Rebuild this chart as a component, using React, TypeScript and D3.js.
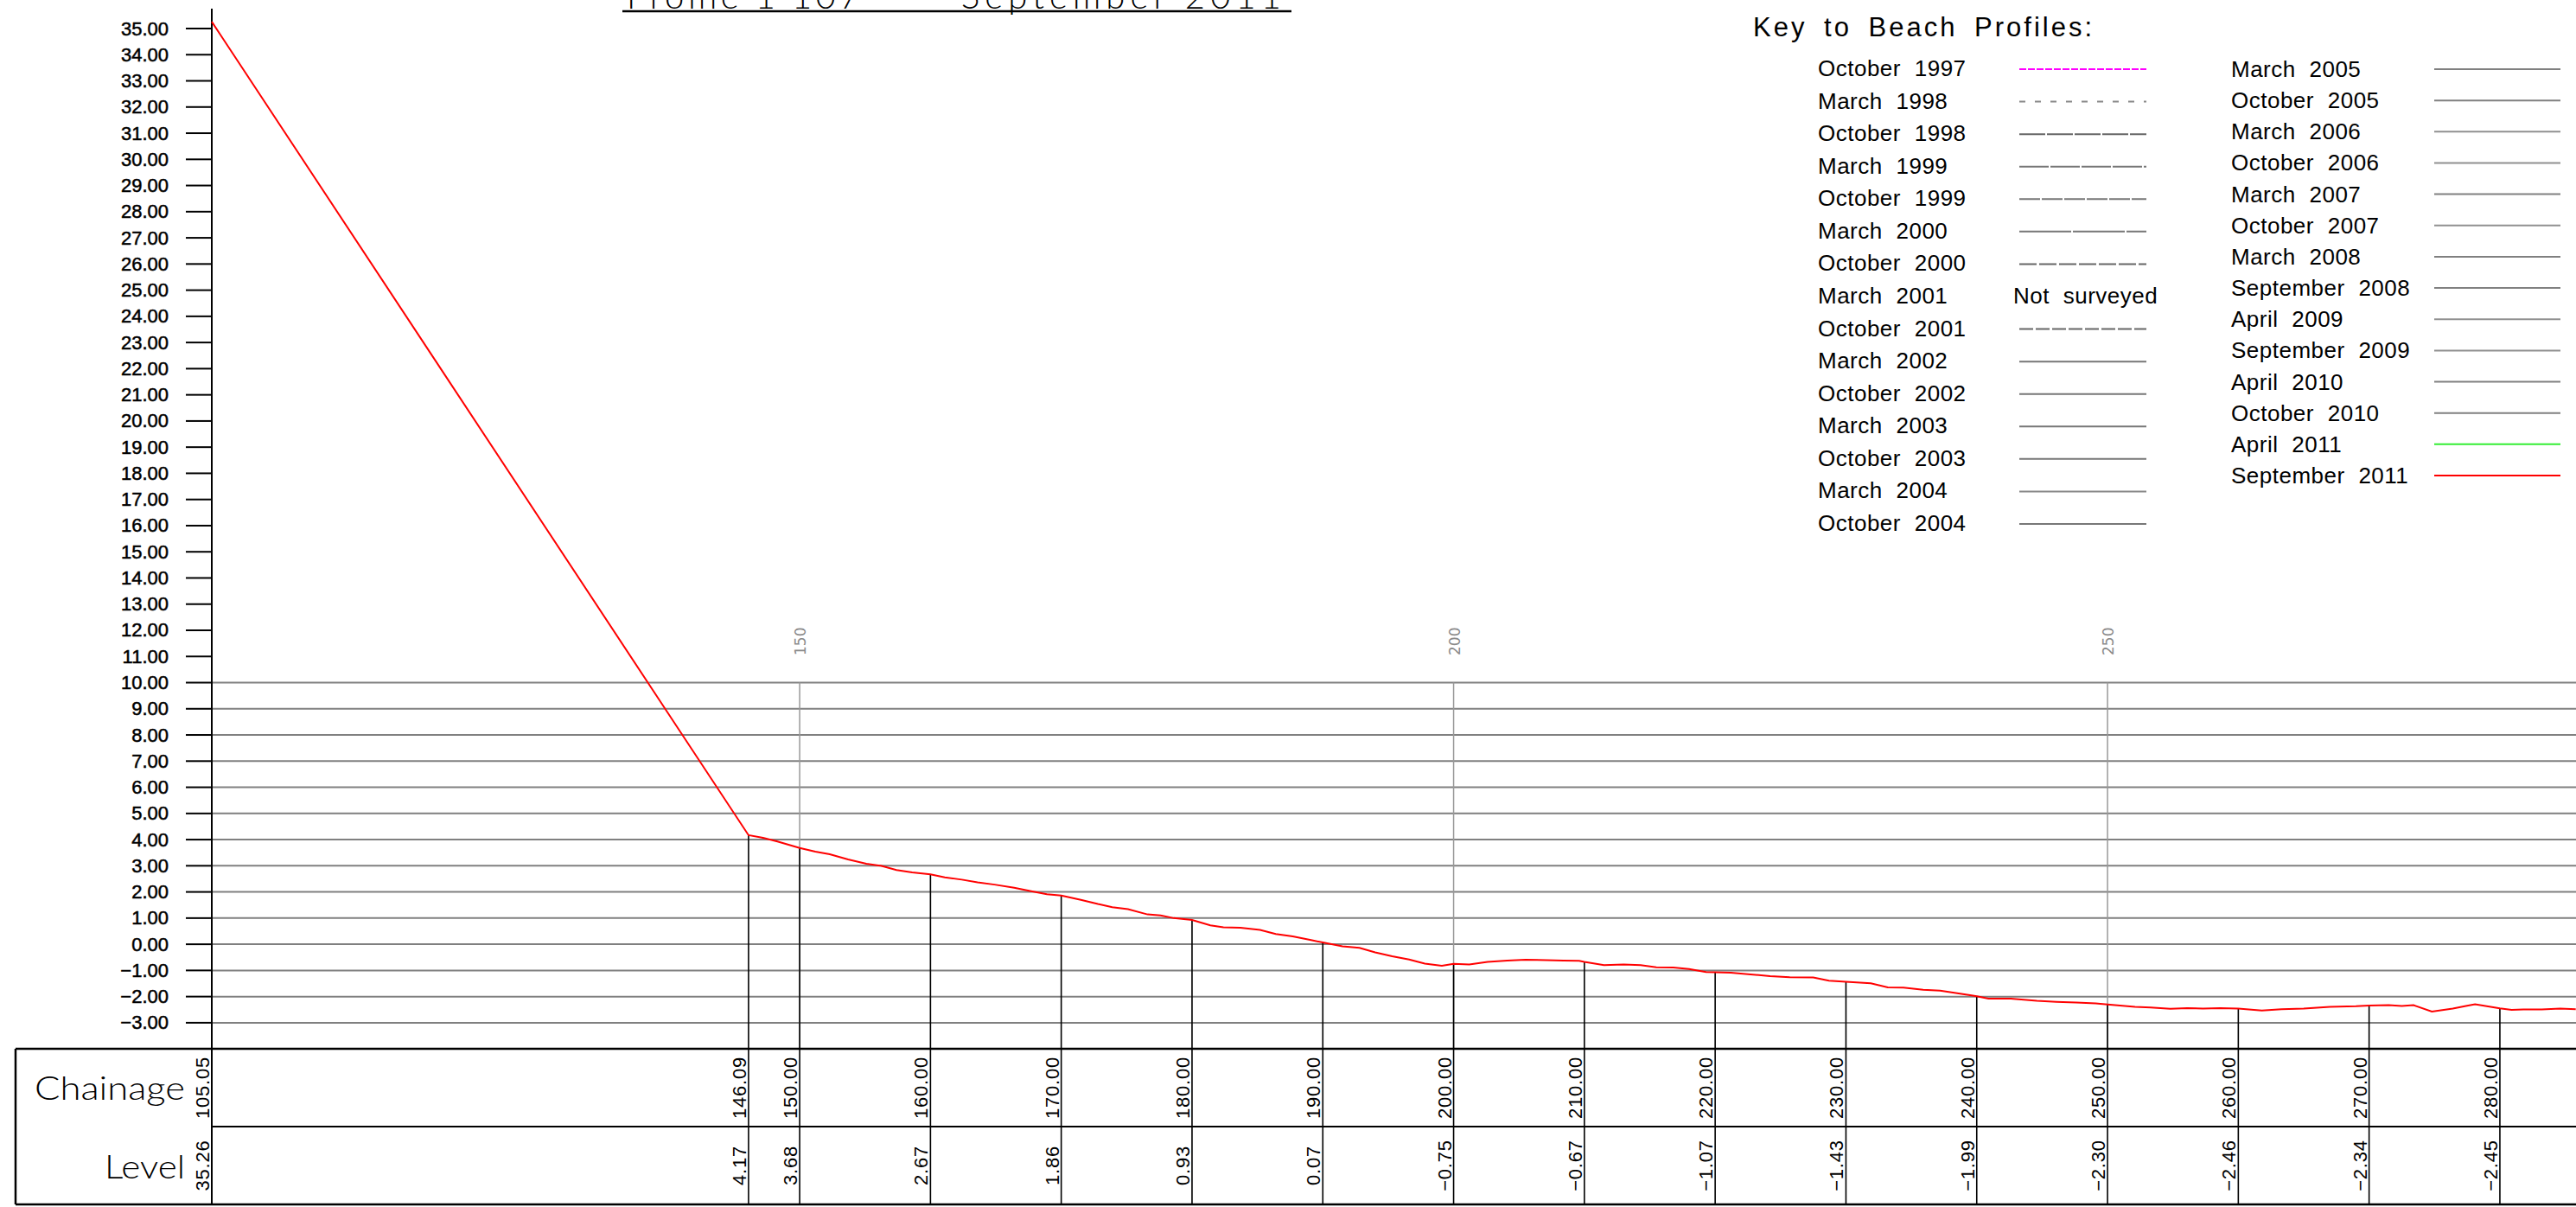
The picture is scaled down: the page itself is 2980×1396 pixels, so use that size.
import { scaleLinear, line as d3Line, format, range } from 'd3';

// September 2011 survey, chainage (m) vs level (m)
const profileChainage = [
  105.05, 146.09, 147.2, 148.3, 150, 151.2, 152.3, 153.7, 155.1, 156.2, 157.4, 158.6,
  160, 161.1, 162.4, 163.6, 164.9, 166.4, 167.7, 168.9, 170, 171.5, 172.8, 173.9,
  175.1, 176.6, 177.6, 178.6, 180, 181.4, 182.4, 183.7, 185.2, 186.4, 187.7, 189.1,
  190, 191.5, 192.8, 194.0, 195.3, 196.6, 197.8, 199.1, 200, 201.2, 202.6, 204.1,
  205.5, 207.1, 208.4, 209.6, 210, 211.5, 213.0, 214.3, 215.5, 216.8, 218.0, 219.3,
  220, 221.2, 222.7, 224.2, 225.7, 227.5, 228.7, 230, 231.9, 233.2, 234.4, 235.9,
  237.2, 238.4, 239.7, 240, 240.9, 242.6, 244.6, 246.1, 247.6, 249.1, 250, 252.1,
  253.3, 254.8, 256.1, 257.3, 258.6, 260, 261.8, 263.3, 265.0, 267.0, 269.0, 270,
  271.5, 272.5, 273.4, 274.8, 276.4, 277.4, 278.1, 280, 280.9, 281.8, 283.2, 284.6,
  285.8,
];
const profileLevel = [
  35.26, 4.17, 4.07, 3.93, 3.68, 3.54, 3.44, 3.24, 3.08, 3.0, 2.84, 2.75,
  2.67, 2.56, 2.47, 2.37, 2.28, 2.16, 2.03, 1.91, 1.86, 1.7, 1.54, 1.42,
  1.34, 1.14, 1.1, 1.0, 0.93, 0.72, 0.65, 0.63, 0.55, 0.39, 0.3, 0.16,
  0.07, -0.08, -0.14, -0.31, -0.46, -0.58, -0.74, -0.82, -0.75, -0.77, -0.67, -0.62,
  -0.59, -0.61, -0.62, -0.63, -0.67, -0.8, -0.77, -0.8, -0.88, -0.89, -0.95, -1.06,
  -1.07, -1.09, -1.15, -1.22, -1.26, -1.27, -1.39, -1.43, -1.49, -1.65, -1.66, -1.74,
  -1.77, -1.86, -1.96, -1.99, -2.08, -2.08, -2.16, -2.2, -2.23, -2.26, -2.3, -2.39,
  -2.42, -2.47, -2.44, -2.46, -2.44, -2.46, -2.53, -2.48, -2.46, -2.39, -2.37, -2.34,
  -2.33, -2.36, -2.33, -2.57, -2.46, -2.36, -2.29, -2.45, -2.51, -2.49, -2.49, -2.46,
  -2.48,
];

// table under the chart
const tableChainage = [105.05, 146.09, 150, 160, 170, 180, 190, 200, 210, 220, 230, 240, 250, 260, 270, 280];
const tableLevel = [35.26, 4.17, 3.68, 2.67, 1.86, 0.93, 0.07, -0.75, -0.67, -1.07, -1.43, -1.99, -2.3, -2.46, -2.34, -2.45];

const levelTicks = range(-3, 36);
const gridLevels = range(-3, 11);
const topTicks = [150, 200, 250];

// key
const keyLeft = [
  'October 1997', 'March 1998', 'October 1998', 'March 1999', 'October 1999',
  'March 2000', 'October 2000', 'March 2001', 'October 2001', 'March 2002',
  'October 2002', 'March 2003', 'October 2003', 'March 2004', 'October 2004',
];
const keyRight = [
  'March 2005', 'October 2005', 'March 2006', 'October 2006', 'March 2007',
  'October 2007', 'March 2008', 'September 2008', 'April 2009', 'September 2009',
  'April 2010', 'October 2010', 'April 2011', 'September 2011',
];
const notSurveyed = 'March 2001';

const leftColors = ['#ff00ff', '#888', '#666', '#777', '#777', '#777', '#666', '', '#666', '#777', '#777', '#777', '#777', '#888', '#777'];
const leftDashes = ['8 2', '7 11', '30 2', '34 2', '24 2', '60 2', '20 3', '', '16 3', '', '', '', '', '', ''];
const rightColors = ['#808080', '#808080', '#909090', '#909090', '#808080', '#909090', '#808080', '#808080', '#909090', '#909090', '#808080', '#808080', '#33ee33', '#ff0000'];

const W = 2980;
const H = 1396;
const AXIS_X = 245;
const TABLE_TOP = 1213;
const TABLE_MID = 1303;
const TABLE_BOT = 1393;
const TABLE_LEFT = 18;

const FONT = "'Liberation Sans', Arial, sans-serif";
const THIN = "Lato, 'Open Sans', sans-serif";

const fmt = format('.2f');

const App = () => {
  const x = scaleLinear().domain([105.05, 285.82]).range([AXIS_X, W]);
  const y = scaleLinear().domain([-3, 35]).range([1182.9, 33]);

  const pts = profileChainage.map((c, i) => [c, profileLevel[i]] as [number, number]);
  const path = d3Line<[number, number]>()
    .x((d) => x(d[0]))
    .y((d) => y(d[1]))(pts);

  const keyLeftY = scaleLinear().domain([0, 14]).range([80, 606]);
  const keyRightY = scaleLinear().domain([0, 13]).range([80, 550]);

  return (
    <svg
      width={W}
      height={H}
      style={{ position: 'absolute', left: 0, top: 0, display: 'block', background: '#fff' }}
    >
      {/* title, cut at the top edge as in the drawing */}
      <text x={725} y={10} fontFamily={THIN} fontWeight={300} fontSize={40} textLength={269} lengthAdjust="spacing">
        Profile 1 107
      </text>
      <text x={1112} y={10} fontFamily={THIN} fontWeight={300} fontSize={40} textLength={370} lengthAdjust="spacing">
        September 2011
      </text>
      <line x1={720} x2={1494} y1={13} y2={13} stroke="#000" strokeWidth={2.5} />

      {/* horizontal grid */}
      {gridLevels.map((l) => (
        <line key={'g' + l} x1={AXIS_X} x2={W} y1={y(l)} y2={y(l)} stroke="#808080" strokeWidth={2} />
      ))}

      {/* top chainage grid */}
      {topTicks.map((c) => (
        <g key={'t' + c}>
          <line x1={x(c)} x2={x(c)} y1={y(10)} y2={TABLE_TOP} stroke="#999" strokeWidth={1.5} />
          <text
            transform={`translate(${x(c) + 7}, 758) rotate(-90)`}
            fontFamily="'DejaVu Sans', sans-serif"
            fontSize={17}
            fill="#8a8a8a"
          >
            {c}
          </text>
        </g>
      ))}

      {/* drop lines */}
      {tableChainage.slice(1).map((c, i) => (
        <line
          key={'d' + c}
          x1={x(c)}
          x2={x(c)}
          y1={y(tableLevel[i + 1])}
          y2={TABLE_BOT}
          stroke="#000"
          strokeWidth={1.6}
        />
      ))}

      {/* y axis */}
      <line x1={AXIS_X} x2={AXIS_X} y1={10} y2={TABLE_BOT} stroke="#000" strokeWidth={2} />
      {levelTicks.map((l) => (
        <g key={'y' + l}>
          <line x1={215} x2={AXIS_X} y1={y(l)} y2={y(l)} stroke="#000" strokeWidth={2} />
          <text
            x={195}
            y={y(l) + 7.5}
            textAnchor="end"
            fontFamily={FONT}
            fontSize={22}
            stroke="#000"
            strokeWidth={0.5}
          >
            {fmt(l)}
          </text>
        </g>
      ))}

      {/* profile */}
      <path d={path ?? ''} fill="none" stroke="#ff0000" strokeWidth={2} />

      {/* table */}
      <line x1={TABLE_LEFT} x2={W} y1={TABLE_TOP} y2={TABLE_TOP} stroke="#000" strokeWidth={2.5} />
      <line x1={AXIS_X} x2={W} y1={TABLE_MID} y2={TABLE_MID} stroke="#000" strokeWidth={2.2} />
      <line x1={TABLE_LEFT} x2={W} y1={TABLE_BOT} y2={TABLE_BOT} stroke="#000" strokeWidth={2.5} />
      <line x1={TABLE_LEFT} x2={TABLE_LEFT} y1={TABLE_TOP} y2={TABLE_BOT} stroke="#000" strokeWidth={2.5} />
      <text x={214} y={1272} textAnchor="end" fontFamily={THIN} fontWeight={300} fontSize={38} textLength={174} lengthAdjust="spacingAndGlyphs">
        Chainage
      </text>
      <text x={214} y={1363} textAnchor="end" fontFamily={THIN} fontWeight={300} fontSize={38} textLength={93} lengthAdjust="spacingAndGlyphs">
        Level
      </text>
      {tableChainage.map((c, i) => (
        <g key={'tc' + c}>
          <text
            transform={`translate(${x(c) - 3}, ${(TABLE_TOP + TABLE_MID) / 2}) rotate(-90)`}
            textAnchor="middle"
            fontFamily={FONT}
            fontSize={22}
            letterSpacing={0.8}
          >
            {fmt(c)}
          </text>
          <text
            transform={`translate(${x(c) - 3}, ${(TABLE_MID + TABLE_BOT) / 2}) rotate(-90)`}
            textAnchor="middle"
            fontFamily={FONT}
            fontSize={22}
            letterSpacing={0.8}
          >
            {fmt(tableLevel[i])}
          </text>
        </g>
      ))}

      {/* key */}
      <text x={2028} y={42} fontFamily={FONT} fontSize={31} wordSpacing={8} textLength={392} lengthAdjust="spacing">
        Key to Beach Profiles:
      </text>
      {keyLeft.map((name, i) => (
        <g key={'kl' + name}>
          <text x={2103} y={keyLeftY(i) + 8} fontFamily={FONT} fontSize={26} letterSpacing={0.5} wordSpacing={8}>
            {name}
          </text>
          {name === notSurveyed ? (
            <text x={2329} y={keyLeftY(i) + 8} fontFamily={FONT} fontSize={26} letterSpacing={0.5} wordSpacing={8}>
              Not surveyed
            </text>
          ) : (
            <line
              x1={2336}
              x2={2483}
              y1={keyLeftY(i)}
              y2={keyLeftY(i)}
              stroke={leftColors[i]}
              strokeWidth={2}
              strokeDasharray={leftDashes[i] || undefined}
            />
          )}
        </g>
      ))}
      {keyRight.map((name, i) => (
        <g key={'kr' + name}>
          <text x={2581} y={keyRightY(i) + 9} fontFamily={FONT} fontSize={26} letterSpacing={0.5} wordSpacing={8}>
            {name}
          </text>
          <line
            x1={2816}
            x2={2962}
            y1={keyRightY(i)}
            y2={keyRightY(i)}
            stroke={rightColors[i]}
            strokeWidth={2}
          />
        </g>
      ))}
    </svg>
  );
};

export default App;
